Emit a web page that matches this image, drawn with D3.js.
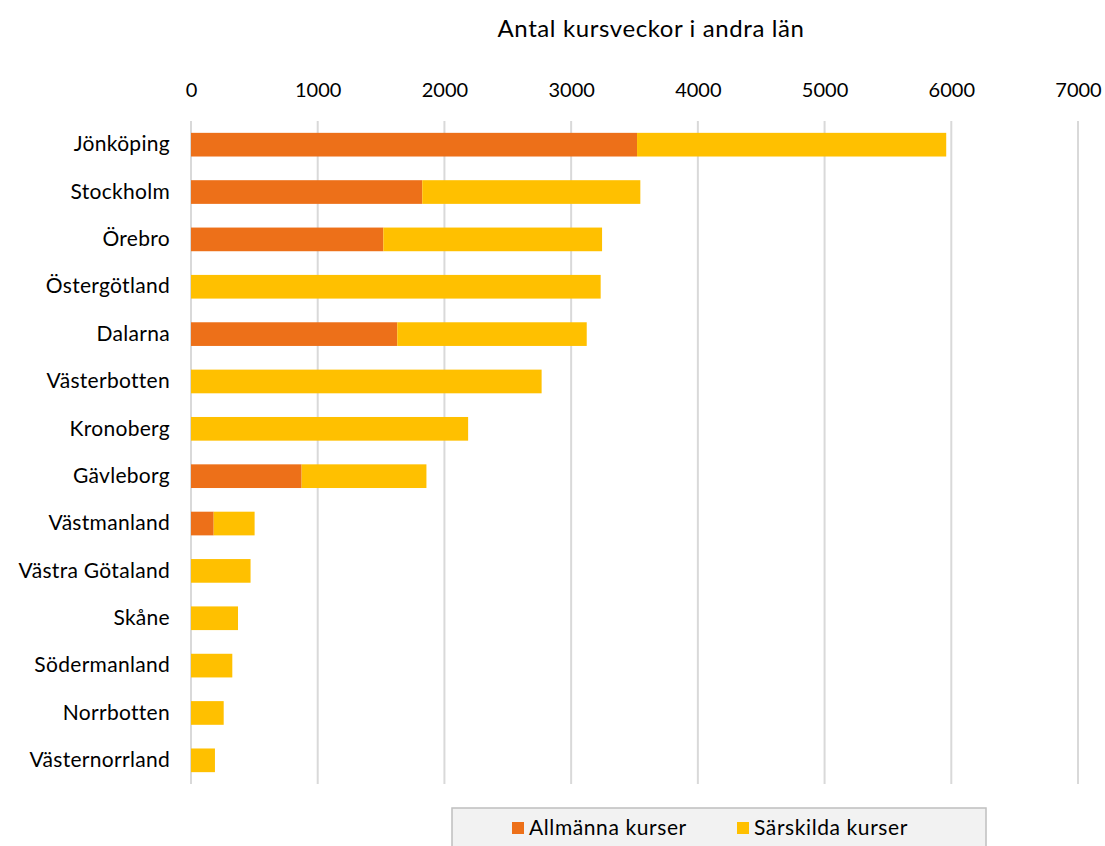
<!DOCTYPE html>
<html><head><meta charset="utf-8">
<script src="https://cdn.jsdelivr.net/npm/d3@7"></script>
<style>body{margin:0;background:#fff}svg text{font-family:Lato,"Open Sans",sans-serif;fill:#000}</style>
</head><body><svg id="c" width="1105" height="846"></svg>
<script>
const categories=["Jönköping","Stockholm","Örebro","Östergötland","Dalarna","Västerbotten","Kronoberg","Gävleborg","Västmanland","Västra Götaland","Skåne","Södermanland","Norrbotten","Västernorrland"];
const allmanna=[3520,1825,1518,0,1628,0,0,873,179,0,0,0,0,0];
const sarskilda=[2440,1721,1726,3233,1495,2767,2187,985,323,470,371,326,258,189];
const seriesNames=["Allmänna kurser","Särskilda kurser"];
const colors=["#ED7019","#FFC000"];
const tickValues=[0,1000,2000,3000,4000,5000,6000,7000];
const title="Antal kursveckor i andra län";

const svg=d3.select("#c");
const x=d3.scaleLinear().domain([0,7000]).range([191,1078]);
const y=d3.scaleBand().domain(categories).range([121,784]).paddingInner(0.5).paddingOuter(0.25);

svg.append("text").attr("x",651).attr("y",37).attr("text-anchor","middle").style("font-size","24px").style("letter-spacing","0.6px").text(title);

const grid=svg.append("g");
grid.selectAll("line").data(tickValues).join("line")
 .attr("x1",d=>x(d)).attr("x2",d=>x(d)).attr("y1",121).attr("y2",784)
 .attr("stroke","#d9d9d9").attr("stroke-width",2);

const xAxis=svg.append("g").attr("transform","translate(0,97)")
 .call(d3.axisTop(x).tickValues(tickValues).tickSize(0).tickPadding(0).tickFormat(d3.format("d")));
xAxis.select(".domain").remove();
xAxis.selectAll("text").style("font-size","20px").style("font-family","Lato");

const yAxis=svg.append("g").attr("transform","translate(170,0)")
 .call(d3.axisLeft(y).tickSize(0).tickPadding(0));
yAxis.select(".domain").remove();
yAxis.selectAll("text").style("font-size","21px").style("letter-spacing","0.3px").style("font-family","Lato");

const data=categories.map((c,i)=>({cat:c,a:allmanna[i],s:sarskilda[i]}));
const stack=d3.stack().keys(["a","s"])(data);
svg.append("g").selectAll("g").data(stack).join("g").attr("fill",(d,i)=>colors[i])
 .selectAll("rect").data(d=>d).join("rect")
 .attr("x",d=>x(d[0])).attr("width",d=>x(d[1])-x(d[0]))
 .attr("y",d=>y(d.data.cat)).attr("height",y.bandwidth());

const lg=svg.append("g");
lg.append("rect").attr("x",452).attr("y",808).attr("width",534).attr("height",50).attr("fill","#f2f2f2").attr("stroke","#bfbfbf").attr("stroke-width",1.5);
const lx=[512,737];
seriesNames.forEach((n,i)=>{
 lg.append("rect").attr("x",lx[i]).attr("y",822).attr("width",12).attr("height",12).attr("fill",colors[i]);
 lg.append("text").attr("x",lx[i]+17).attr("y",835).style("font-size","21px").style("letter-spacing","0.6px").text(n);
});
</script></body></html>
